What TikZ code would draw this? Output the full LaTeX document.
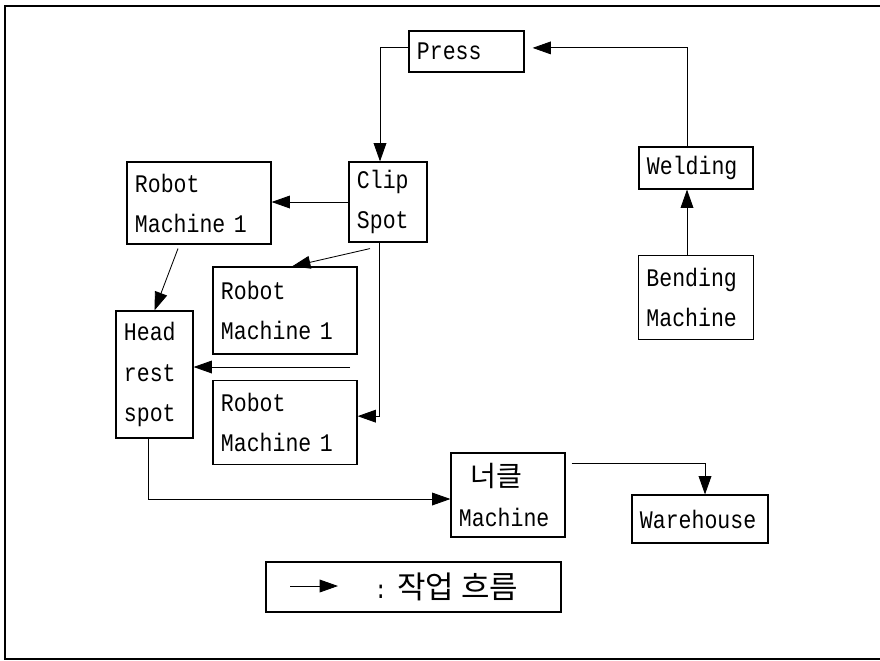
\documentclass[tikz,border=0pt]{standalone}
\usepackage{fontspec}
\setmonofont{Liberation Mono}[FakeStretch=0.85]
\newfontfamily\krfont{Noto Sans CJK KR}
\usetikzlibrary{positioning, arrows.meta}

\begin{document}
\begin{tikzpicture}[
  x=0.025cm, y=-0.025cm,
  station/.style={
    rectangle, draw=black, line width=0.8pt, fill=white,
    align=left, inner xsep=0.2cm, inner ysep=0pt,
    font=\ttfamily\fontsize{18}{28.5}\selectfont
  },
  legendbox/.style={
    rectangle, draw=black, line width=0.8pt,
    minimum width=7.375cm, minimum height=1.25cm
  },
  arr/.style={-{Triangle[length=4.6mm, width=3.2mm]}, line width=0.6pt, color=black},
]
\useasboundingbox (0,0) rectangle (880,660);

% Frame
\draw[line width=1pt] (890,6) -- (5,6) -- (5,659) -- (890,659);

% Stations
\node[station, text width=2.475cm, minimum height=1.025cm] (press) at (466.5,51.5) {Press};
\node[station, text width=1.55cm, minimum height=2cm] (clip) at (388,202) {Clip\\Spot};
\node[station, text width=3.2cm, minimum height=2.05cm] (robotA) at (199,203) {Robot\\Machine 1};
\node[station, text width=3.2cm, minimum height=2.175cm] (robotB) at (285,310.5) {Robot\\Machine 1};
\node[station, text width=3.2cm, minimum height=2.1cm, below=0.625cm of robotB] (robotC) {Robot\\Machine 1};
\node[station, text width=1.525cm, minimum height=3.175cm] (head) at (154.5,374.5) {Head\\rest\\spot};
\node[station, text width=2.45cm, minimum height=1.05cm] (welding) at (696,168) {Welding};
\node[station, text width=2.475cm, minimum height=2.1cm, below=1.625cm of welding] (bending) {Bending\\Machine};
\node[station, text width=2.45cm, minimum height=2.1cm] (knuckle) at (508,495)
  {\hspace*{0.3cm}{\krfont\fontsize{20}{28.5}\selectfont 너클}\\Machine};
\node[station, text width=3cm, minimum height=1.2cm] (warehouse) at (700,519) {Warehouse};

% Legend
\node[legendbox] (legend) at (413.5,587) {};
\coordinate (lgstart) at (290,586);
\coordinate (lgend) at (338,586);
\node[anchor=west, inner sep=0pt] (lgtext) at (374,587)
  {\ttfamily\fontsize{18}{20}\selectfont :\hspace{0.25cm}{\krfont\fontsize{22}{24}\selectfont 작업 흐름}};
\coordinate (midgap) at (350,367);

% Work flow
\draw[arr] ([yshift=0.11cm]press.west) -| ([xshift=-0.2cm]clip.north);
\draw[arr] ([xshift=-0.225cm]welding.north) |- ([xshift=0.2cm,yshift=0.09cm]press.east);
\draw[arr] ([xshift=-0.225cm]bending.north) -- ([xshift=-0.225cm]welding.south);
\draw[arr] (clip.west) -- (clip.west -| robotA.east);
\draw[arr] ([xshift=-0.45cm,yshift=-0.15cm]clip.south) -- ([xshift=0.175cm]robotB.north);
\draw[arr] ([xshift=-0.225cm]clip.south) |- ([yshift=0.15cm]robotC.east);
\draw[arr] ([xshift=-0.525cm,yshift=-0.1cm]robotA.south) -- (head.north);
\draw[arr] (midgap) -- (midgap -| head.east);
\draw[arr] ([xshift=-0.16cm]head.south) |- ([yshift=-0.1cm]knuckle.west);
\draw[arr] ([xshift=0.15cm,yshift=0.8cm]knuckle.east) -| ([xshift=0.125cm]warehouse.north);
\draw[arr] (lgstart) -- (lgend);

\end{tikzpicture}
\end{document}
